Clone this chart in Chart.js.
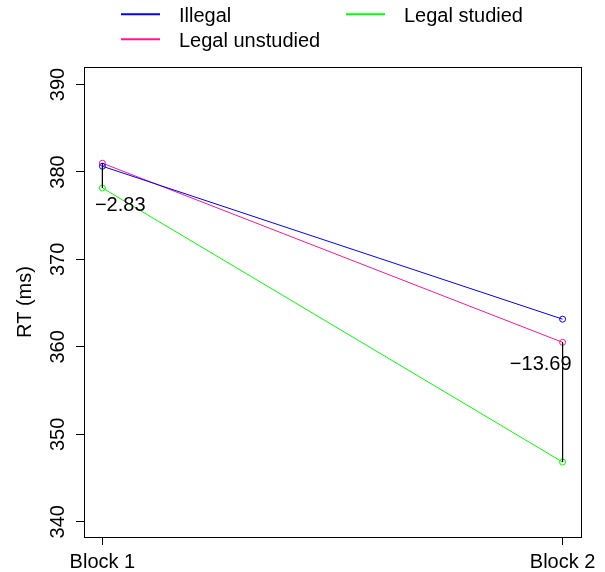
<!DOCTYPE html>
<html lang="en">
<head>
    <meta charset="UTF-8">
    <title>RT by block</title>
    <script src="https://cdn.jsdelivr.net/npm/chart.js"></script>
    <style>
        body { margin: 0; background: #fff; }
    </style>
</head>
<body>
    <canvas id="rtChart" width="605" height="572"></canvas>

    <script>
        // values
        const blocks = ['Block 1', 'Block 2'];
        const illegal = [380.65, 363.17];
        const legalUnstudied = [381.0, 360.52];
        const legalStudied = [378.17, 346.83];
        const yTicks = [340, 350, 360, 370, 380, 390];

        const FONT = "'Liberation Sans', Arial, Helvetica, sans-serif";
        Chart.defaults.font.family = FONT;
        Chart.defaults.color = '#000';

        const series = [
            { label: 'Illegal', data: illegal, color: '#0000ff' },
            { label: 'Legal unstudied', data: legalUnstudied, color: '#ff1493' },
            { label: 'Legal studied', data: legalStudied, color: '#00ff00' }
        ];

        const toPoints = arr => arr.map((v, i) => ({ x: i + 1, y: v }));

        const datasets = series.map(s => ({
            label: s.label,
            data: toPoints(s.data),
            borderColor: s.color,
            borderWidth: 1,
            pointRadius: 3,
            pointBorderWidth: 1,
            pointBorderColor: s.color,
            pointBackgroundColor: 'rgba(0,0,0,0)',
            showLine: true,
            tension: 0
        }));

        // black segment between unstudied and studied in each block
        blocks.forEach((b, i) => {
            datasets.push({
                label: 'diff ' + b,
                data: [{ x: i + 1, y: legalUnstudied[i] }, { x: i + 1, y: legalStudied[i] }],
                borderColor: '#000',
                borderWidth: 1,
                pointRadius: 0,
                showLine: true,
                order: -1
            });
        });

        const fmt = v => v.toFixed(2).replace('-', '\u2212');

        const extras = {
            id: 'extras',
            afterDraw(chart) {
                const ctx = chart.ctx;
                const a = chart.chartArea;
                const xs = chart.scales.x;
                const ys = chart.scales.y;
                ctx.save();

                // plot box
                ctx.strokeStyle = '#000';
                ctx.lineWidth = 1;
                ctx.strokeRect(Math.round(a.left) + 0.5, Math.round(a.top) + 0.5,
                    Math.round(a.right - a.left), Math.round(a.bottom - a.top));

                ctx.fillStyle = '#000';
                ctx.font = '20px ' + FONT;

                // rotated y tick labels
                ctx.textAlign = 'center';
                ctx.textBaseline = 'alphabetic';
                yTicks.forEach(t => {
                    ctx.save();
                    ctx.translate(63.5, ys.getPixelForValue(t));
                    ctx.rotate(-Math.PI / 2);
                    ctx.fillText(String(t), 0, 0);
                    ctx.restore();
                });

                // y title
                ctx.save();
                ctx.translate(31, (a.top + a.bottom) / 2);
                ctx.rotate(-Math.PI / 2);
                ctx.fillText('RT (ms)', 0, 0);
                ctx.restore();

                // differences
                const d1 = fmt(legalStudied[0] - legalUnstudied[0]);
                ctx.textAlign = 'left';
                ctx.fillText(d1, xs.getPixelForValue(1) - 7.5, ys.getPixelForValue(legalStudied[0]) + 23);
                const d2 = fmt(legalStudied[1] - legalUnstudied[1]);
                ctx.textAlign = 'right';
                ctx.fillText(d2, xs.getPixelForValue(2) + 9, ys.getPixelForValue(legalUnstudied[1]) + 27.5);

                // legend, filled column by column
                ctx.textAlign = 'left';
                series.forEach((s, i) => {
                    const col = Math.floor(i / 2);
                    const row = i % 2;
                    const x0 = 121 + col * 225;
                    const yb = 21.7 + row * 25;
                    ctx.strokeStyle = s.color;
                    ctx.lineWidth = 2;
                    ctx.beginPath();
                    ctx.moveTo(x0, yb - 7.5);
                    ctx.lineTo(x0 + 39, yb - 7.5);
                    ctx.stroke();
                    ctx.fillText(s.label, x0 + 58, yb);
                });
                ctx.restore();
            }
        };

        new Chart(document.getElementById('rtChart'), {
            type: 'scatter',
            data: { datasets: datasets },
            options: {
                responsive: false,
                animation: false,
                layout: { padding: { top: 67, right: 24, bottom: 0, left: 0 } },
                plugins: {
                    legend: { display: false },
                    tooltip: { enabled: false }
                },
                scales: {
                    x: {
                        type: 'linear',
                        min: 0.96,
                        max: 2.04,
                        afterBuildTicks: s => { s.ticks = blocks.map((b, i) => ({ value: i + 1 })); },
                        afterFit: s => { s.height = 35; },
                        grid: { drawOnChartArea: false, drawTicks: true, tickLength: 8, color: '#000' },
                        border: { display: false },
                        ticks: {
                            font: { size: 20 },
                            padding: 5,
                            maxRotation: 0,
                            callback: v => blocks[v - 1]
                        }
                    },
                    y: {
                        min: 338.26,
                        max: 392,
                        afterBuildTicks: s => { s.ticks = yTicks.map(v => ({ value: v })); },
                        afterFit: s => { s.width = 84; },
                        grid: { drawOnChartArea: false, drawTicks: true, tickLength: 8, color: '#000' },
                        border: { display: false },
                        ticks: { display: false }
                    }
                }
            },
            plugins: [extras]
        });
    </script>
</body>
</html>
